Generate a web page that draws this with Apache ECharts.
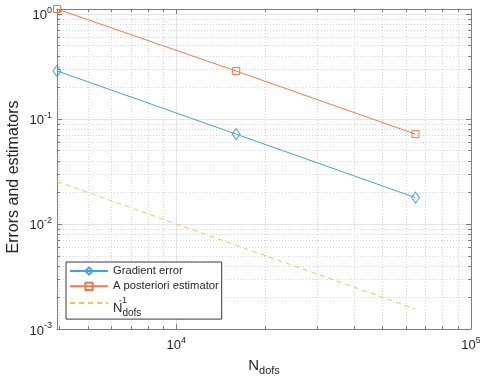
<!DOCTYPE html>
<html><head><meta charset="utf-8">
<script src="https://cdn.jsdelivr.net/npm/echarts@6/dist/echarts.min.js"></script>
<style>html,body{margin:0;padding:0;background:#fff}#c{width:480px;height:381px}</style>
</head><body><div id="c"></div>
<script>
// ---- data ----
const nDofs = [3940, 15970, 64800];
const gradientError = [0.286, 0.0715, 0.0178];
const estimator = [1.11, 0.285, 0.0715];
const referenceRate = [0.0254, 0.00626, 0.00155];
const seriesNames = ['Gradient error', 'A posteriori estimator', 'Ndofs^-1'];
// axis limits and tick values
const xLimits = [3940, 100000];
const yLimits = [0.001, 1.11];
const xMajorTicks = [10000, 100000];
const xMinorTicks = [4000, 5000, 6000, 7000, 8000, 9000, 20000, 30000, 40000, 50000, 60000, 70000, 80000, 90000];
const yMajorTicks = [0.001, 0.01, 0.1, 1];
const yMinorTicks = [0.002, 0.003, 0.004, 0.005, 0.006, 0.007, 0.008, 0.009,
                     0.02, 0.03, 0.04, 0.05, 0.06, 0.07, 0.08, 0.09,
                     0.2, 0.3, 0.4, 0.5, 0.6, 0.7, 0.8, 0.9];

const AXIS = '#7d7d7d';
const TXT = '#262626';
const FONT = 'Liberation Sans';
const blue = '#45a0de', orange = '#ec7a4d', yellow = '#f3c458';

const gridData = [];
xMajorTicks.forEach(v => gridData.push([v, yLimits[0], 0]));
xMinorTicks.forEach(v => gridData.push([v, yLimits[0], 1]));
yMajorTicks.forEach(v => gridData.push([xLimits[0], v, 2]));
yMinorTicks.forEach(v => gridData.push([xLimits[0], v, 3]));

function renderGrid(params, api) {
  const kind = api.value(2);
  const cs = params.coordSys;
  const major = (kind === 0 || kind === 2);
  const gridStyle = major ? {stroke: '#e4e4e4', lineWidth: 1}
                          : {stroke: '#d6d6d6', lineWidth: 1, lineDash: [1, 2]};
  const tickStyle = {stroke: AXIS, lineWidth: 1};
  const len = major ? 5 : 3;
  const children = [];
  if (kind < 2) {
    const p = api.coord([api.value(0), yLimits[0]]);
    const x = Math.round(p[0]) + 0.5;
    if (x < cs.x + 1 || x > cs.x + cs.width - 1) return null;
    const y0 = cs.y, y1 = cs.y + cs.height;
    children.push({type: 'line', shape: {x1: x, y1: y0, x2: x, y2: y1}, style: gridStyle});
    children.push({type: 'line', shape: {x1: x, y1: y1, x2: x, y2: y1 - len}, style: tickStyle});
    children.push({type: 'line', shape: {x1: x, y1: y0, x2: x, y2: y0 + len}, style: tickStyle});
  } else {
    const p = api.coord([xLimits[0], api.value(1)]);
    const y = Math.round(p[1]) + 0.5;
    if (y < cs.y + 1 || y > cs.y + cs.height - 1) return null;
    const x0 = cs.x, x1 = cs.x + cs.width;
    children.push({type: 'line', shape: {x1: x0, y1: y, x2: x1, y2: y}, style: gridStyle});
    children.push({type: 'line', shape: {x1: x0, y1: y, x2: x0 + len, y2: y}, style: tickStyle});
    children.push({type: 'line', shape: {x1: x1, y1: y, x2: x1 - len, y2: y}, style: tickStyle});
  }
  return {type: 'group', children: children};
}

function powLabel(v) {
  const e = Math.log10(v);
  const r = Math.round(e);
  if (Math.abs(e - r) > 1e-6) return '';
  return '{b|10}{s|' + r + '}';
}
const labelRich = {
  b: {fontSize: 13, color: TXT, fontFamily: FONT, padding: [4, 0, 0, 0]},
  s: {fontSize: 9, color: TXT, fontFamily: FONT, padding: [0, 0, 6, 0]}
};

const chart = echarts.init(document.getElementById('c'));
chart.setOption({
  animation: false,
  backgroundColor: '#fff',
  textStyle: {fontFamily: FONT},
  grid: {left: 57, right: 9, top: 9, bottom: 52, containLabel: false, outerBoundsMode: 'none'},
  xAxis: [{
    type: 'log', logBase: 10, min: xLimits[0], max: xLimits[1],
    axisLine: {show: true, onZero: false, lineStyle: {color: AXIS, width: 1}},
    axisTick: {show: false}, splitLine: {show: false}, minorTick: {show: false},
    axisLabel: {formatter: powLabel, rich: labelRich, margin: 6, showMinLabel: false, hideOverlap: false},
    name: '{n|N}{d|dofs}', nameLocation: 'middle', nameGap: 26, nameMoveOverlap: false,
    nameTextStyle: {rich: {
      n: {fontSize: 15, color: TXT, fontFamily: FONT},
      d: {fontSize: 11, color: TXT, fontFamily: FONT, padding: [10, 0, 0, 0]}
    }}
  }, {
    type: 'log', logBase: 10, min: xLimits[0], max: xLimits[1], position: 'top',
    axisLine: {show: true, onZero: false, lineStyle: {color: AXIS, width: 1}},
    axisTick: {show: false}, axisLabel: {show: false}, splitLine: {show: false}
  }],
  yAxis: [{
    type: 'log', logBase: 10, min: yLimits[0], max: yLimits[1],
    axisLine: {show: true, onZero: false, lineStyle: {color: AXIS, width: 1}},
    axisTick: {show: false}, splitLine: {show: false}, minorTick: {show: false},
    axisLabel: {formatter: powLabel, rich: labelRich, margin: 5, showMaxLabel: false},
    name: 'Errors and estimators', nameLocation: 'middle', nameGap: 35, nameMoveOverlap: false,
    nameTextStyle: {fontSize: 16, color: TXT, fontFamily: FONT, padding: [0, 16, 0, 0]}
  }, {
    type: 'log', logBase: 10, min: yLimits[0], max: yLimits[1], position: 'right',
    axisLine: {show: true, onZero: false, lineStyle: {color: AXIS, width: 1}},
    axisTick: {show: false}, axisLabel: {show: false}, splitLine: {show: false}
  }],
  legend: {
    data: [seriesNames[0], seriesNames[1], {name: seriesNames[2], itemStyle: {opacity: 0}}],
    orient: 'vertical', left: 66, top: 262,
    backgroundColor: '#fff', borderColor: '#3a3a3a', borderWidth: 1, borderRadius: 0,
    padding: [2, 3, 1, 3], itemGap: 1.3, itemWidth: 38, itemHeight: 9,
    textStyle: {fontSize: 11.2, lineHeight: 14, color: TXT, fontFamily: FONT,
      rich: {
        sp: {width: 6, fontSize: 9, lineHeight: 6},
        sup: {fontSize: 9, color: TXT, lineHeight: 6, verticalAlign: 'top', fontFamily: FONT},
        n: {fontSize: 13, color: TXT, lineHeight: 6, verticalAlign: 'top', fontFamily: FONT},
        sub: {fontSize: 10, color: TXT, lineHeight: 8, padding: [6, 0, 0, 0], verticalAlign: 'top', fontFamily: FONT}
      }},
    formatter: n => n === seriesNames[2] ? '{sp|}{sup|-1}\n{n|N}{sub|dofs}' : n
  },
  series: [{
    type: 'custom', name: 'grid', coordinateSystem: 'cartesian2d',
    data: gridData, renderItem: renderGrid, z: 1, silent: true,
    encode: {x: 0, y: 1}
  }, {
    type: 'line', name: seriesNames[0],
    data: nDofs.map((x, i) => [x, gradientError[i]]),
    symbol: 'diamond', symbolSize: [8, 11],
    lineStyle: {color: blue, width: 1},
    itemStyle: {color: 'rgba(255,255,255,0)', borderColor: blue, borderWidth: 1},
    z: 3
  }, {
    type: 'line', name: seriesNames[1],
    data: nDofs.map((x, i) => [x, estimator[i]]),
    symbol: 'rect', symbolSize: 7,
    lineStyle: {color: orange, width: 1},
    itemStyle: {color: 'rgba(255,255,255,0)', borderColor: orange, borderWidth: 1},
    z: 3
  }, {
    type: 'line', name: seriesNames[2],
    data: nDofs.map((x, i) => [x, referenceRate[i]]),
    symbol: 'none',
    lineStyle: {color: yellow, width: 1, type: [5, 4]}, itemStyle: {color: yellow},
    z: 3
  }]
});
</script>
</body></html>
